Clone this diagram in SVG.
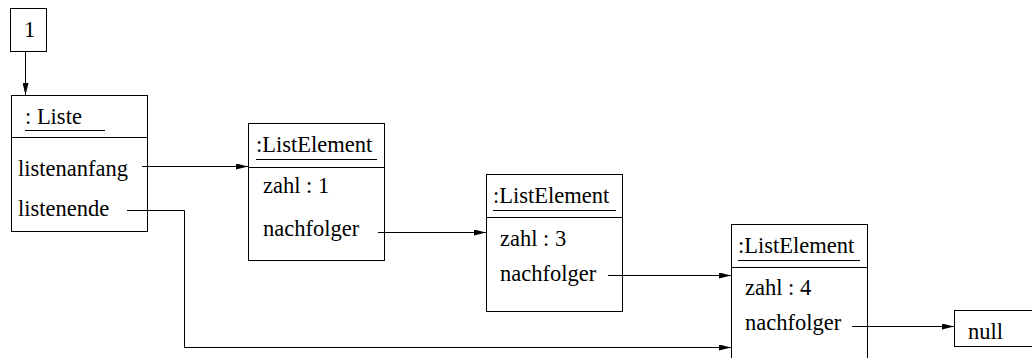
<svg xmlns="http://www.w3.org/2000/svg" width="1032" height="358" viewBox="0 0 1032 358">
<style>
text{font-family:'Liberation Serif','Times New Roman',serif;font-size:22.5px;fill:#000}
.box{fill:#fff;stroke:#000;stroke-width:1}
.ln{fill:none;stroke:#000;stroke-width:1}
.c{fill:none;stroke:#000;stroke-width:1;marker-end:url(#ah)}
</style>
<defs>
<marker id="ah" viewBox="0 0 12 6" refX="12" refY="3" markerWidth="12" markerHeight="6" markerUnits="userSpaceOnUse" orient="auto">
<path d="M0,0 L12,3 L0,6 z" fill="#000"/>
</marker>
</defs>
<g id="one">
<rect class="box" x="10.5" y="8.5" width="36" height="43"/>
<text x="24" y="37">1</text>
</g>
<g id="liste">
<rect class="box" x="11.5" y="95.5" width="136" height="136"/>
<line class="ln" x1="11.5" y1="137.5" x2="147.5" y2="137.5"/>
<text x="25" y="124">: Liste</text>
<line class="ln" x1="25" y1="130.5" x2="105" y2="130.5"/>
<text x="18" y="176">listenanfang</text>
<text x="18" y="216">listenende</text>
</g>
<g id="le1">
<rect class="box" x="248.5" y="123.5" width="136" height="137"/>
<line class="ln" x1="248.5" y1="167.5" x2="384.5" y2="167.5"/>
<text x="256" y="152">:ListElement</text>
<line class="ln" x1="256" y1="159.5" x2="377" y2="159.5"/>
<text x="263" y="193">zahl : 1</text>
<text x="263" y="236">nachfolger</text>
</g>
<g id="le2">
<rect class="box" x="486.5" y="174.5" width="136" height="137"/>
<line class="ln" x1="486.5" y1="217.5" x2="622.5" y2="217.5"/>
<text x="493" y="203">:ListElement</text>
<line class="ln" x1="493" y1="210.5" x2="616" y2="210.5"/>
<text x="500" y="246">zahl : 3</text>
<text x="500" y="281">nachfolger</text>
</g>
<g id="le3">
<rect class="box" x="731.5" y="224.5" width="136" height="150"/>
<line class="ln" x1="731.5" y1="267.5" x2="867.5" y2="267.5"/>
<text x="738" y="253">:ListElement</text>
<line class="ln" x1="738" y1="260.5" x2="860" y2="260.5"/>
<text x="745" y="295">zahl : 4</text>
<text x="745" y="330">nachfolger</text>
</g>
<g id="null">
<rect class="box" x="954.5" y="310.5" width="90" height="36"/>
<text x="968" y="339">null</text>
</g>
<g id="connectors">
<path class="c" d="M25.5,52 V95"/>
<path class="c" d="M142,166.5 H248"/>
<path class="c" d="M127,210.5 H184.5 V347.5 H731"/>
<path class="c" d="M378,232.5 H486"/>
<path class="c" d="M608,275.5 H731"/>
<path class="c" d="M852,326.5 H954"/>
</g>
</svg>
